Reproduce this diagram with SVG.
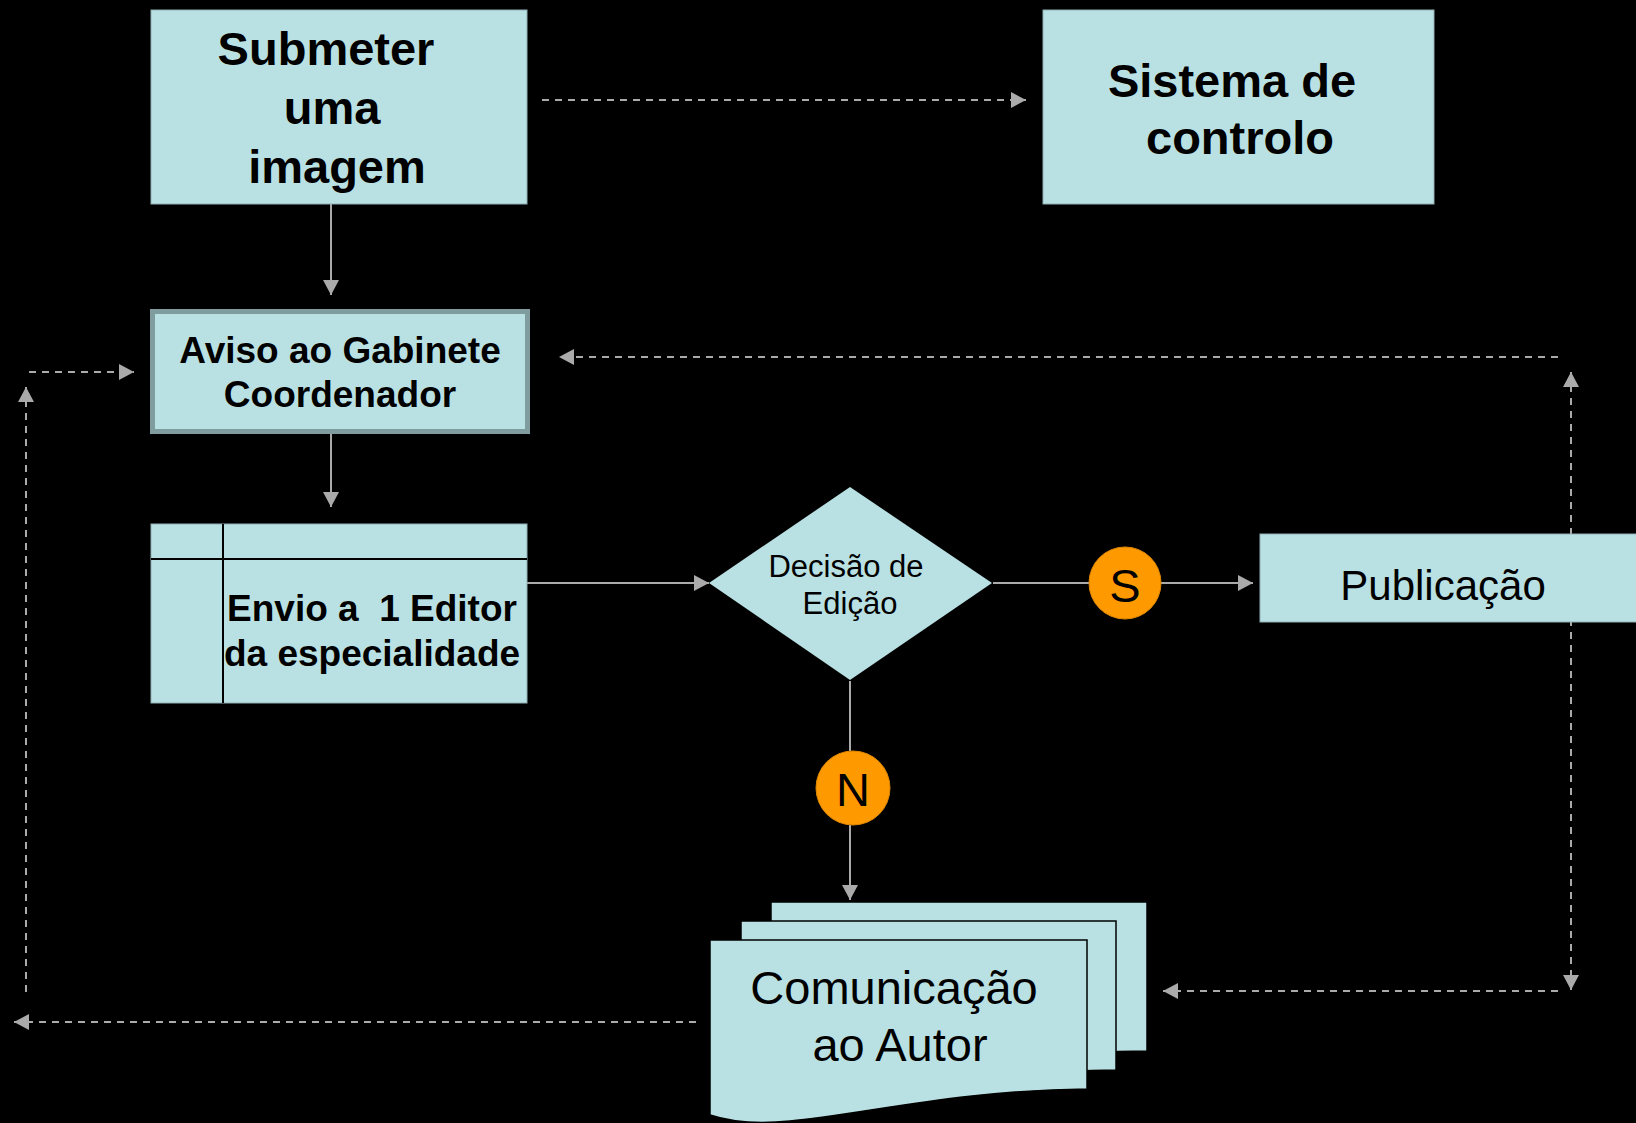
<svg xmlns="http://www.w3.org/2000/svg" width="1636" height="1123" viewBox="0 0 1636 1123">
<style>
.box{fill:#b9e0e3;stroke:#8fb0b3;stroke-width:1}
.sheet{fill:#b9e0e3;stroke:#000;stroke-width:1.5}
.b{font-family:"Liberation Sans",Arial,sans-serif;font-weight:bold;fill:#000;text-anchor:middle}
.r{font-family:"Liberation Sans",Arial,sans-serif;fill:#000;text-anchor:middle}
.solid{stroke:#aaaaaa;stroke-width:2;fill:none}
.dash{stroke:#aaaaaa;stroke-width:2;fill:none;stroke-dasharray:7 6}
.circ{fill:#ff9900;stroke:#e08800;stroke-width:1}
</style>
<defs>
<marker id="ah" markerUnits="userSpaceOnUse" markerWidth="16" markerHeight="16" refX="15" refY="8" orient="auto-start-reverse">
<path d="M0,0 L15,8 L0,16 z" fill="#aaaaaa"/>
</marker>
</defs>
<rect width="1636" height="1123" fill="#000"/>

<g id="connectors">
<line class="solid" x1="331" y1="204" x2="331" y2="295" marker-end="url(#ah)"/>
<line class="dash" x1="542" y1="100" x2="1026" y2="100" marker-end="url(#ah)"/>
<line class="solid" x1="331" y1="434" x2="331" y2="507" marker-end="url(#ah)"/>
<line class="solid" x1="527" y1="583" x2="709" y2="583" marker-end="url(#ah)"/>
<line class="solid" x1="993" y1="583" x2="1089" y2="583"/>
<line class="solid" x1="1161" y1="583" x2="1253" y2="583" marker-end="url(#ah)"/>
<line class="solid" x1="850" y1="681" x2="850" y2="751"/>
<line class="solid" x1="850" y1="825" x2="850" y2="900" marker-end="url(#ah)"/>
<line class="dash" x1="1571" y1="372" x2="1571" y2="990" marker-start="url(#ah)" marker-end="url(#ah)"/>
<line class="dash" x1="1558" y1="357" x2="559" y2="357" marker-end="url(#ah)"/>
<line class="dash" x1="1558" y1="991" x2="1163" y2="991" marker-end="url(#ah)"/>
<line class="dash" x1="696" y1="1022" x2="14" y2="1022" marker-end="url(#ah)"/>
<line class="dash" x1="26" y1="992" x2="26" y2="387" marker-end="url(#ah)"/>
<line class="dash" x1="29" y1="372" x2="134" y2="372" marker-end="url(#ah)"/>
</g>

<g id="submeter">
<rect class="box" x="151" y="10" width="376" height="194"/>
<text class="b" font-size="47" x="326" y="65">Submeter</text>
<text class="b" font-size="47" x="332" y="124">uma</text>
<text class="b" font-size="47" x="337" y="183">imagem</text>
</g>

<g id="sistema">
<rect class="box" x="1043" y="10" width="391" height="194"/>
<text class="b" font-size="47" x="1232" y="97">Sistema de</text>
<text class="b" font-size="47" x="1240" y="154">controlo</text>
</g>

<g id="aviso">
<rect x="152.5" y="311.5" width="375" height="120" fill="#b9e0e3" stroke="#7f9c9e" stroke-width="5"/>
<text class="b" font-size="37" x="340" y="363">Aviso ao Gabinete</text>
<text class="b" font-size="37" x="340" y="407">Coordenador</text>
</g>

<g id="envio">
<rect class="box" x="151" y="524" width="376" height="179"/>
<line x1="151" y1="559" x2="527" y2="559" stroke="#000" stroke-width="2"/>
<line x1="223" y1="524" x2="223" y2="703" stroke="#000" stroke-width="2"/>
<text class="b" font-size="37" x="372" y="621" style="white-space:pre">Envio a  1 Editor</text>
<text class="b" font-size="37" x="372" y="666">da especialidade</text>
</g>

<g id="decisao">
<polygon points="850,487 992,583 850,680 709,583" fill="#b9e0e3"/>
<text class="r" font-size="31" x="846" y="577">Decisão de</text>
<text class="r" font-size="31" x="850" y="614">Edição</text>
</g>

<g id="sim">
<circle class="circ" cx="1125" cy="583" r="36"/>
<text class="r" font-size="47" x="1125" y="602">S</text>
</g>

<g id="nao">
<circle class="circ" cx="853" cy="788" r="37"/>
<text class="r" font-size="47" x="853" y="806">N</text>
</g>

<g id="publicacao">
<rect class="box" x="1260" y="534" width="380" height="88"/>
<text class="r" font-size="42" x="1443" y="600">Publicação</text>
</g>

<g id="comunicacao">
<path class="sheet" d="M771,902 H1147 V1051 C1020,1052 920,1077 850,1083 C810,1087 785,1082 771,1077 Z"/>
<path class="sheet" d="M741,921 H1116 V1070 C990,1071 890,1096 820,1102 C780,1106 755,1101 741,1096 Z"/>
<path class="sheet" d="M710,940 H1087 V1089 C960,1090 860,1115 790,1121 C750,1125 725,1120 710,1115 Z"/>
<text class="r" font-size="47" x="894" y="1004">Comunicação</text>
<text class="r" font-size="47" x="900" y="1061">ao Autor</text>
</g>
</svg>
